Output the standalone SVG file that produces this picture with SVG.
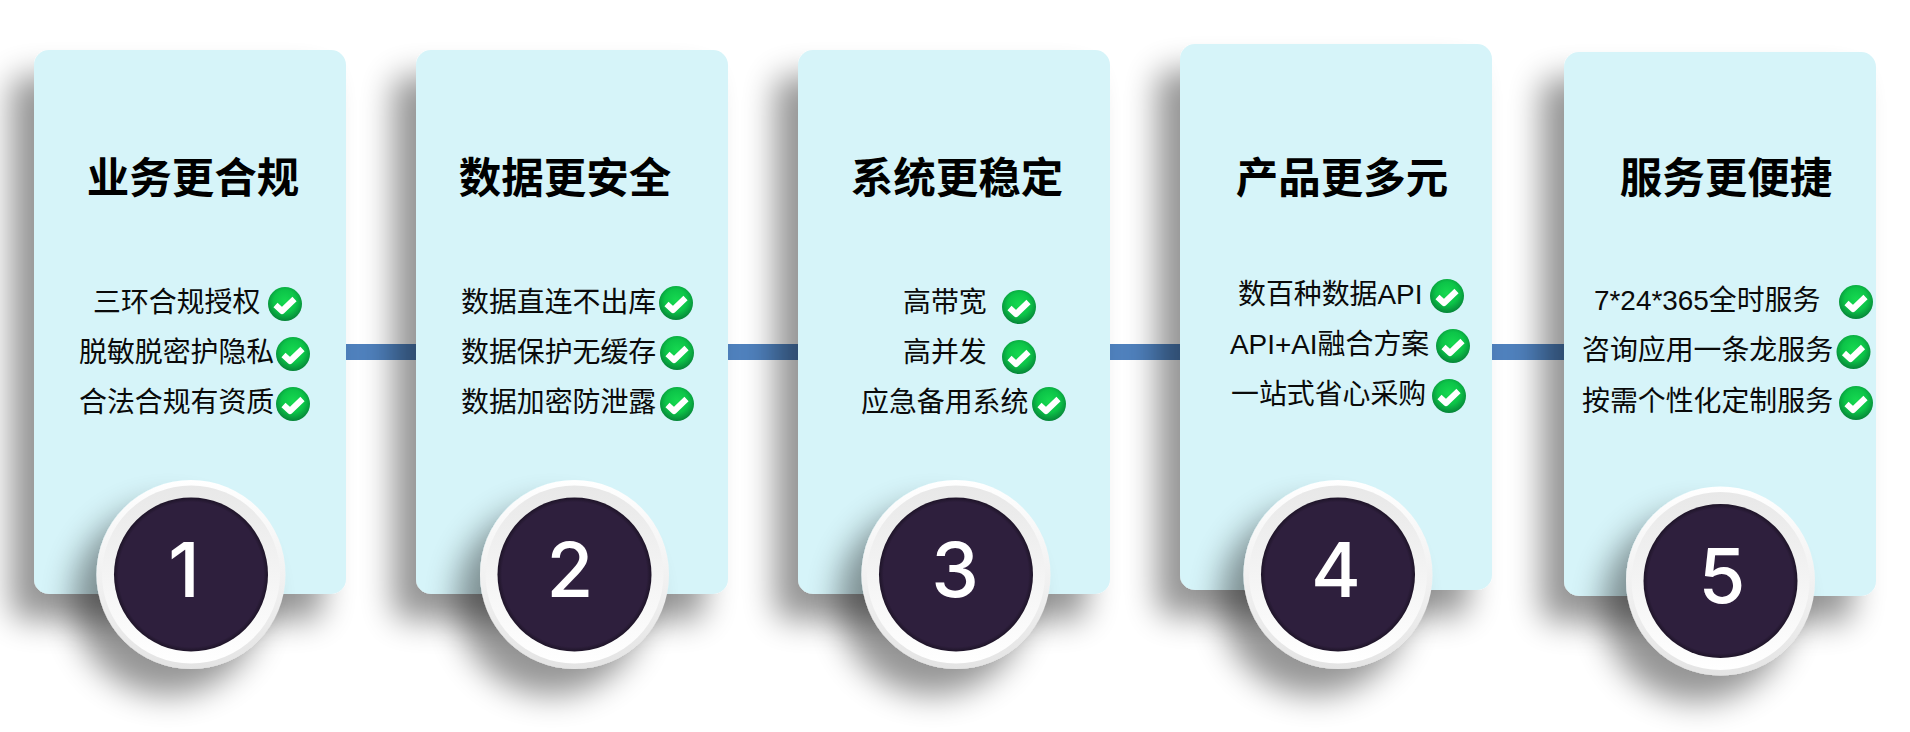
<svg xmlns="http://www.w3.org/2000/svg" xmlns:xlink="http://www.w3.org/1999/xlink" width="1910" height="732" viewBox="0 0 1910 732">
<style>
.card{fill:#d6f4f9;filter:url(#cardShadow)}
.title{font-family:"Noto Sans CJK SC","Liberation Sans",sans-serif;font-size:42.5px;font-weight:700;fill:#000;text-anchor:middle}
.item{font-family:"Liberation Sans","Noto Sans CJK SC",sans-serif;font-size:27.9px;fill:#0a0a0a}
.num{font-family:Inter,"Liberation Sans",sans-serif;font-size:76px;font-weight:500;fill:#fff;text-anchor:middle}
.conn{fill:#4f81bd}
</style>
<defs>
<filter id="cardShadow" x="-30%" y="-20%" width="150%" height="140%">
<feGaussianBlur in="SourceAlpha" stdDeviation="16"/>
<feOffset dx="-23" dy="26"/>
<feComponentTransfer><feFuncA type="linear" slope="0.42"/></feComponentTransfer>
<feMerge><feMergeNode/><feMergeNode in="SourceGraphic"/></feMerge>
</filter>
<filter id="ringShadow" x="-50%" y="-50%" width="200%" height="200%">
<feGaussianBlur in="SourceAlpha" stdDeviation="16"/>
<feOffset dx="-23" dy="26"/>
<feComponentTransfer><feFuncA type="linear" slope="0.42"/></feComponentTransfer>
<feMerge><feMergeNode/><feMergeNode in="SourceGraphic"/></feMerge>
</filter>
<linearGradient id="ringOuter" x1="0" y1="0" x2="0" y2="1"><stop offset="0" stop-color="#ffffff"/><stop offset="1" stop-color="#e4e4e4"/></linearGradient>
<linearGradient id="ringInner" x1="0" y1="0" x2="0" y2="1"><stop offset="0" stop-color="#e8e8e8"/><stop offset="0.6" stop-color="#f6f6f6"/><stop offset="1" stop-color="#ffffff"/></linearGradient>
<radialGradient id="disc" cx="0.5" cy="0.5" r="0.5"><stop offset="0.94" stop-color="#2e1f3d"/><stop offset="1" stop-color="#1e1428"/></radialGradient>
<radialGradient id="greenBall" cx="0.5" cy="0.42" r="0.6"><stop offset="0" stop-color="#16d950"/><stop offset="0.55" stop-color="#0cc448"/><stop offset="1" stop-color="#067f37"/></radialGradient>
<g id="check"><circle r="17" fill="url(#greenBall)"/><path d="M-9.5 1 L-3 7 L9.5 -5" fill="none" stroke="#fff" stroke-width="6" stroke-linejoin="round"/></g>
<g id="ring"><circle r="94.5" fill="url(#ringOuter)" filter="url(#ringShadow)"/><circle r="89" fill="url(#ringInner)"/><circle r="77" fill="url(#disc)"/></g>
</defs>
<rect width="1910" height="732" fill="#fff"/>
<g id="connectors">
<rect class="conn" x="340" y="344" width="80" height="16"/>
<rect class="conn" x="724" y="344" width="80" height="16"/>
<rect class="conn" x="1106" y="344" width="80" height="16"/>
<rect class="conn" x="1490" y="344" width="80" height="16"/>
</g>
<g id="node-1">
<rect class="card" x="34" y="50" width="312" height="544" rx="15"/>
<text class="title" x="193" y="193">业务更合规</text>
<text class="item" x="93" y="312">三环合规授权</text>
<use xlink:href="#check" href="#check" x="285" y="304"/>
<text class="item" x="79" y="362">脱敏脱密护隐私</text>
<use xlink:href="#check" href="#check" x="293" y="354"/>
<text class="item" x="79" y="412">合法合规有资质</text>
<use xlink:href="#check" href="#check" x="293" y="404"/>
<use xlink:href="#ring" href="#ring" x="191" y="574.5"/>
<text class="num" x="184" y="597">1</text>
</g>
<g id="node-2">
<rect class="card" x="416" y="50" width="312" height="544" rx="15"/>
<text class="title" x="565" y="193">数据更安全</text>
<text class="item" x="461" y="312">数据直连不出库</text>
<use xlink:href="#check" href="#check" x="676" y="303"/>
<text class="item" x="461" y="362">数据保护无缓存</text>
<use xlink:href="#check" href="#check" x="677" y="353"/>
<text class="item" x="461" y="412">数据加密防泄露</text>
<use xlink:href="#check" href="#check" x="677" y="404"/>
<use xlink:href="#ring" href="#ring" x="574.5" y="574.5"/>
<text class="num" x="570" y="597">2</text>
</g>
<g id="node-3">
<rect class="card" x="798" y="50" width="312" height="544" rx="15"/>
<text class="title" x="957" y="193">系统更稳定</text>
<text class="item" x="903" y="312">高带宽</text>
<use xlink:href="#check" href="#check" x="1019" y="307"/>
<text class="item" x="903" y="362">高并发</text>
<use xlink:href="#check" href="#check" x="1019" y="357"/>
<text class="item" x="861" y="412">应急备用系统</text>
<use xlink:href="#check" href="#check" x="1049" y="404"/>
<use xlink:href="#ring" href="#ring" x="956" y="574.5"/>
<text class="num" x="955" y="597">3</text>
</g>
<g id="node-4">
<rect class="card" x="1180" y="44" width="312" height="546" rx="15"/>
<text class="title" x="1342" y="193">产品更多元</text>
<text class="item" x="1238" y="303.5">数百种数据API</text>
<use xlink:href="#check" href="#check" x="1447" y="296"/>
<text class="item" x="1230" y="353.5">API+AI融合方案</text>
<use xlink:href="#check" href="#check" x="1453" y="346"/>
<text class="item" x="1231" y="403.5">一站式省心采购</text>
<use xlink:href="#check" href="#check" x="1449" y="396"/>
<use xlink:href="#ring" href="#ring" x="1338" y="574.5"/>
<text class="num" x="1336" y="597">4</text>
</g>
<g id="node-5">
<rect class="card" x="1564" y="52" width="312" height="544" rx="15"/>
<text class="title" x="1726" y="193">服务更便捷</text>
<text class="item" x="1594" y="310">7*24*365全时服务</text>
<use xlink:href="#check" href="#check" x="1856" y="302"/>
<text class="item" x="1582" y="360">咨询应用一条龙服务</text>
<use xlink:href="#check" href="#check" x="1853.5" y="352"/>
<text class="item" x="1582" y="411">按需个性化定制服务</text>
<use xlink:href="#check" href="#check" x="1856" y="403"/>
<use xlink:href="#ring" href="#ring" x="1720.5" y="581"/>
<text class="num" x="1722" y="603">5</text>
</g>
</svg>
